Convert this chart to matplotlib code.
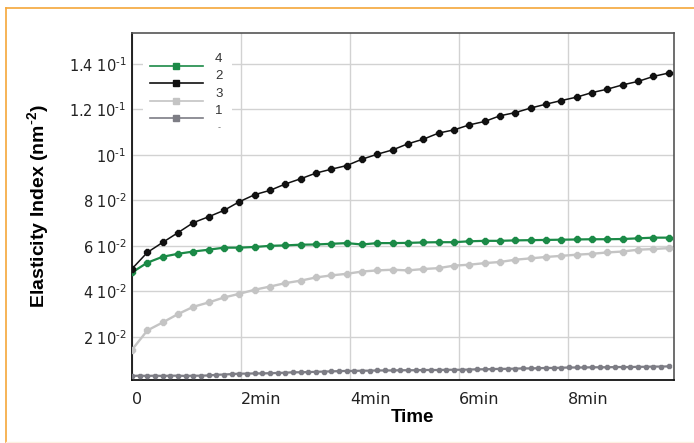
import numpy as np
import matplotlib
matplotlib.use("Agg")
import matplotlib.pyplot as plt
from matplotlib.lines import Line2D
from matplotlib.patches import Rectangle

plt.rcParams['mathtext.default'] = 'regular'
plt.rcParams['mathtext.fontset'] = 'dejavusans'

# sampling step of the recordings (minutes); series 1 was sampled twice as often
step_min = 0.2815

elasticity_2 = [0.0499, 0.0571, 0.0615, 0.0658, 0.0702, 0.0728, 0.0756, 0.0794, 0.0825,
                0.0844, 0.0872, 0.0895, 0.0920, 0.0937, 0.0953, 0.0981, 0.1003, 0.1022,
                0.1049, 0.1069, 0.1096, 0.1110, 0.1132, 0.1147, 0.1172, 0.1186, 0.1206,
                0.1223, 0.1239, 0.1254, 0.1274, 0.1289, 0.1308, 0.1323, 0.1345, 0.1360]
elasticity_4 = [0.0483, 0.0526, 0.0552, 0.0565, 0.0575, 0.0583, 0.0592, 0.0592, 0.0595,
                0.0600, 0.0602, 0.0605, 0.0606, 0.0609, 0.0612, 0.0606, 0.0612, 0.0612,
                0.0613, 0.0615, 0.0616, 0.0616, 0.0620, 0.0622, 0.0622, 0.0624, 0.0625,
                0.0626, 0.0627, 0.0628, 0.0629, 0.0629, 0.0630, 0.0633, 0.0636, 0.0636]
elasticity_3 = [0.0143, 0.0228, 0.0263, 0.0300, 0.0332, 0.0351, 0.0373, 0.0389, 0.0407,
                0.0421, 0.0436, 0.0447, 0.0461, 0.0470, 0.0477, 0.0487, 0.0492, 0.0495,
                0.0492, 0.0498, 0.0502, 0.0513, 0.0517, 0.0524, 0.0529, 0.0539, 0.0545,
                0.0551, 0.0556, 0.0561, 0.0565, 0.0571, 0.0575, 0.0583, 0.0586, 0.0590]
elasticity_1 = [0.0028, 0.0029, 0.0028, 0.0029, 0.0028, 0.0029, 0.0029, 0.0028, 0.0029,
                0.0029, 0.0030, 0.0033, 0.0034, 0.0036, 0.0038, 0.0038, 0.0039, 0.0039,
                0.0040, 0.0041, 0.0042, 0.0044, 0.0044, 0.0045, 0.0046, 0.0047, 0.0048,
                0.0049, 0.0050, 0.0050, 0.0051, 0.0051, 0.0052, 0.0052, 0.0052, 0.0053,
                0.0053, 0.0053, 0.0054, 0.0054, 0.0054, 0.0055, 0.0055, 0.0055, 0.0056,
                0.0057, 0.0057, 0.0058, 0.0059, 0.0059, 0.0060, 0.0061, 0.0061, 0.0062,
                0.0063, 0.0063, 0.0064, 0.0065, 0.0065, 0.0065, 0.0066, 0.0066, 0.0066,
                0.0067, 0.0067, 0.0067, 0.0068, 0.0068, 0.0069, 0.0069, 0.0070]

t_main = step_min * np.arange(len(elasticity_2))
t_fast = step_min / 2 * np.arange(len(elasticity_1))

x_ticks = [0, 2, 4, 6, 8]
x_ticklabels = ["0", "2min", "4min", "6min", "8min"]
y_ticks = [0.02, 0.04, 0.06, 0.08, 0.10, 0.12, 0.14]
y_ticklabels = [r"2 10$^{\text{-}2}$", r"4 10$^{\text{-}2}$", r"6 10$^{\text{-}2}$",
                r"8 10$^{\text{-}2}$", r"10$^{\text{-}1}$", r"1.2 10$^{\text{-}1}$",
                r"1.4 10$^{\text{-}1}$"]

legend_labels = ["4", "2", "3", "1"]
colors = {"4": "#1b8a47", "2": "#111111", "3": "#c4c4c4", "1": "#7d7d85"}

fig = plt.figure(figsize=(6.94, 4.43), dpi=100)
ax = fig.add_axes([132 / 694, 63 / 443, 542 / 694, 347 / 443])

ax.plot(t_fast, elasticity_1, color=colors["1"], lw=1.6, marker="8", ms=3.8, zorder=3)
ax.plot(t_main, elasticity_3, color=colors["3"], lw=1.7, marker="8", ms=4.2, zorder=3)
ax.plot(t_main, elasticity_4, color=colors["4"], lw=1.6, marker="8", ms=4.2, zorder=4)
ax.plot(t_main, elasticity_2, color=colors["2"], lw=1.1, marker="8", ms=4.2, zorder=5)

ax.set_xlim(0, 9.95)
ax.set_ylim(0.001, 0.1536)
ax.set_xticks(x_ticks)
ax.set_xticklabels(x_ticklabels, fontsize=11.5, color="#222222")
for lbl in ax.get_xticklabels():
    lbl.set_ha("left")
ax.set_yticks(y_ticks)
ax.set_yticklabels(y_ticklabels, fontsize=10.5, color="#222222")
ax.tick_params(length=0)
ax.tick_params(axis="x", pad=9)
ax.tick_params(axis="y", pad=4)

ax.grid(True, color="#d2d2d2", lw=1)
ax.set_axisbelow(True)
for side in ["left", "bottom"]:
    ax.spines[side].set_color("#111111")
    ax.spines[side].set_linewidth(1.3)
for side in ["top", "right"]:
    ax.spines[side].set_color("#555555")
    ax.spines[side].set_linewidth(1.2)

ax.set_xlabel("Time", fontsize=13.5, fontweight="bold", family="Liberation Sans")
ax.xaxis.set_label_coords(0.517, -0.085)
ax.set_ylabel(r"Elasticity Index (nm$^{\text{-}2}$)", fontsize=14, fontweight="bold",
              family="Liberation Sans")
ax.yaxis.set_label_coords(-0.15, 0.5)

# legend drawn by hand: white box over the grid, labels sit above their lines
def ax_x(px):
    return (px - 132) / 542

def ax_y(py):
    return (380 - py) / 347

ax.add_patch(Rectangle((ax_x(143), ax_y(135)), ax_x(232) - ax_x(143), ax_y(33) - ax_y(135),
                       transform=ax.transAxes, facecolor="white", edgecolor="none", zorder=1))
line_rows = [65.7, 83, 101, 118]
for i, name in enumerate(legend_labels):
    yy = ax_y(line_rows[i])
    ax.add_line(Line2D([ax_x(150), ax_x(203)], [yy, yy], transform=ax.transAxes,
                       color=colors[name], lw=1.2, zorder=6))
    ax.add_line(Line2D([ax_x(176)], [yy], transform=ax.transAxes, color=colors[name],
                       marker="s", ms=4, lw=0, zorder=6))
    ax.text(ax_x(215), ax_y(line_rows[i] - 7), name, transform=ax.transAxes,
            fontsize=9.5, color="#333333", family="Liberation Sans",
            ha="left", va="center", zorder=6)
ax.text(ax_x(218), ax_y(128), "-", transform=ax.transAxes, fontsize=6,
        color="#777777", ha="left", va="center", zorder=6)

# orange frame around the figure panel
frame = "#f5a73a"
fig.add_artist(Line2D([6 / 694, 1], [1 - 8 / 443, 1 - 8 / 443], color=frame, lw=1.2))
fig.add_artist(Line2D([6 / 694, 6 / 694], [0, 1 - 8 / 443], color=frame, lw=1.2))
fig.add_artist(Line2D([6 / 694, 1], [1.5 / 443, 1.5 / 443], color="#fdf1e2", lw=1))

fig.savefig("out.png", dpi=100)
